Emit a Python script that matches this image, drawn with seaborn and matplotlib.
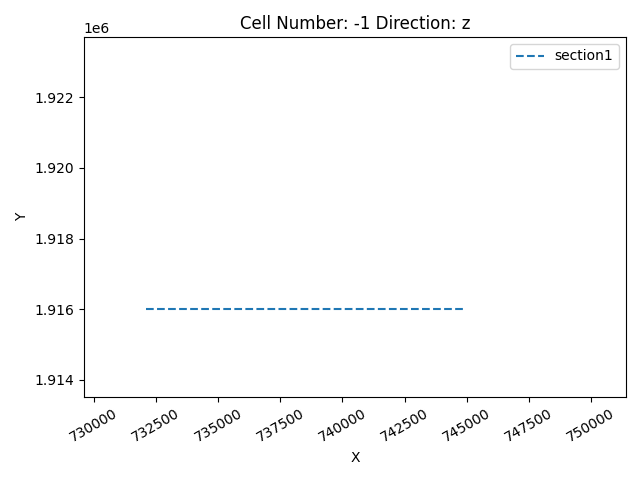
import matplotlib
matplotlib.use("Agg")
import matplotlib.pyplot as plt
import seaborn as sns
import pandas as pd

x_vals = [732100, 744900]
y_vals = [1916000, 1916000]
series = ["section1", "section1"]

df = pd.DataFrame({"X": x_vals, "Y": y_vals, "name": series})

fig, ax = plt.subplots(figsize=(6.4, 4.8), dpi=100)
sns.lineplot(data=df, x="X", y="Y", ax=ax, linestyle="--", color="#1f77b4", label="section1")
ax.set_xlim(729600, 751400)
ax.set_ylim(1913520, 1923700)
ax.set_title("Cell Number: -1 Direction: z")
ax.set_xlabel("X")
ax.set_ylabel("Y")
ax.tick_params(axis="x", rotation=30)
ax.legend(loc="upper right")
fig.subplots_adjust(left=0.131, right=0.978, top=0.923, bottom=0.173)
fig.savefig("out.png", dpi=100)
